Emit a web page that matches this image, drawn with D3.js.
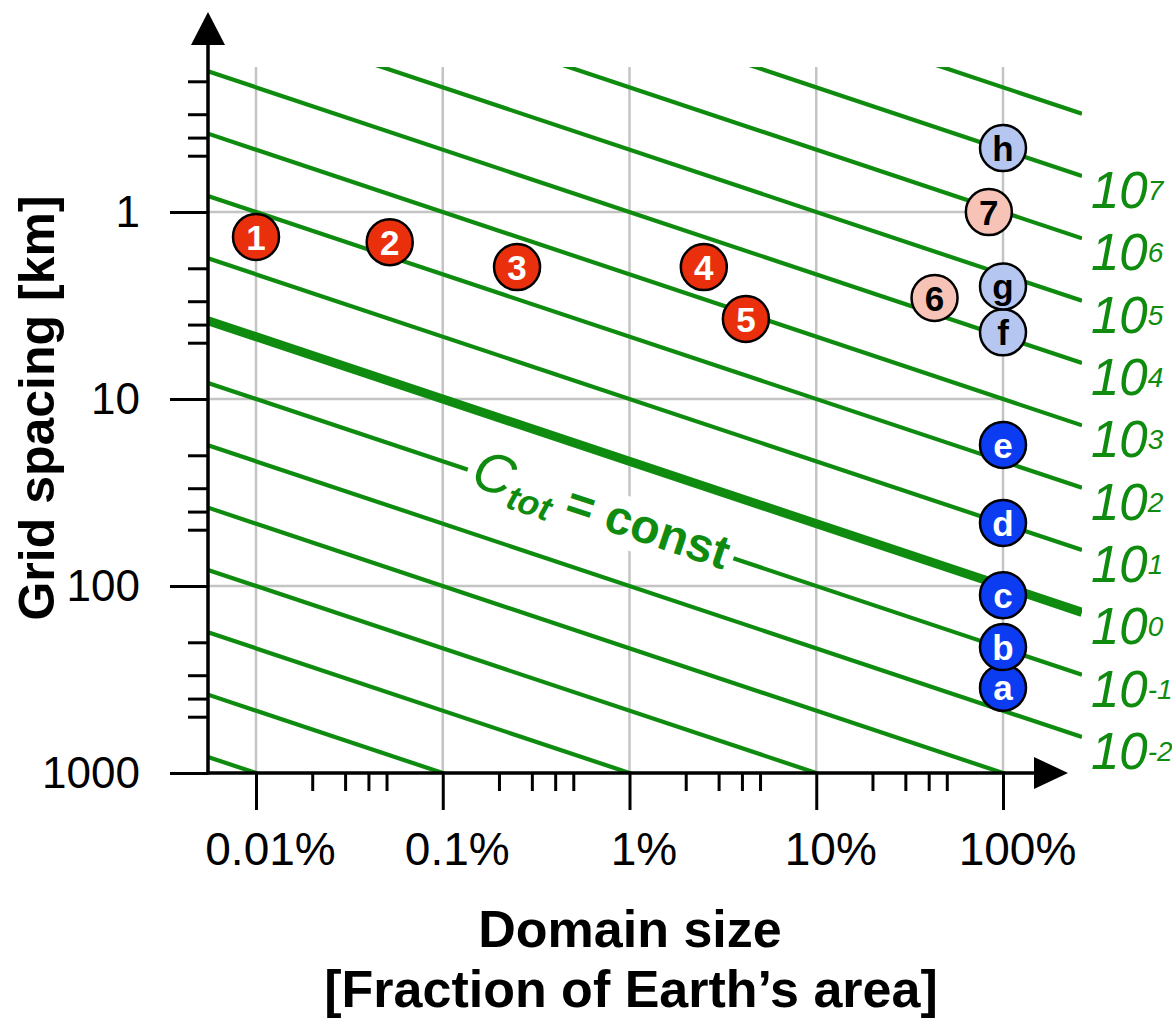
<!DOCTYPE html>
<html>
<head>
<meta charset="utf-8">
<script src="https://cdn.jsdelivr.net/npm/d3@7"></script>
<style>
body { margin: 0; background: #ffffff; }
text { font-family: "Liberation Sans", Arial, Helvetica, sans-serif; }
</style>
</head>
<body>
<div id="canvas"></div>
<script>
// ---- data ----
const domainTicks = [0.0001, 0.001, 0.01, 0.1, 1];              // fraction of Earth's area
const domainTickLabels = ["0.01%", "0.1%", "1%", "10%", "100%"];
const domainMinor = [0.0002, 0.0003, 0.0004, 0.0005,
                     0.002, 0.003, 0.004, 0.005,
                     0.02, 0.03, 0.04, 0.05,
                     0.2, 0.3, 0.4, 0.5];
const spacingTicks = [1, 10, 100, 1000];                           // km
const spacingTickLabels = ["1", "10", "100", "1000"];
const spacingMinor = [0.2, 0.3, 0.4, 0.5,
                      2, 3, 4, 5,
                      20, 30, 40, 50,
                      200, 300, 400, 500];
const costExponents = [-7, -6, -5, -4, -3, -2, -1, 0, 1, 2, 3, 4, 5, 6, 7, 8]; // C_tot = 10^k
const labelledExponents = [-2, -1, 0, 1, 2, 3, 4, 5, 6, 7];
const boldExponent = 0;
const constLabelExponent = -1;
const constLabelDomain = 0.007;                                    // where "C_tot = const" sits

const runLabels  = ["1", "2", "3", "4", "5", "6", "7", "a", "b", "c", "d", "e", "f", "g", "h"];
const runDomain  = [0.0001, 0.00052, 0.0025, 0.025, 0.042, 0.43, 0.84, 1, 1, 1, 1, 1, 1, 1, 1];
const runSpacing = [1.36, 1.45, 1.97, 1.97, 3.73, 2.88, 1.0, 350, 212, 112, 46, 17.6, 4.4, 2.5, 0.455];
const runKind    = ["red", "red", "red", "red", "red", "pink", "pink",
                    "blue", "blue", "blue", "blue", "blue", "lightblue", "lightblue", "lightblue"];

// ---- styles ----
const width = 1172;
const height = 1019;
const green = "#0f8c0f";
const fills = { red: "#ea2f0d", pink: "#f7c3b6", lightblue: "#b5c7f1", blue: "#0c3cf2" };
const textFill = { red: "#ffffff", pink: "#000000", lightblue: "#000000", blue: "#ffffff" };

const plotLeft = 208, plotRight = 1082, plotTop = 67, plotBottom = 773;

const svg = d3.select("#canvas")
    .append("svg")
    .attr("width", width)
    .attr("height", height);

const x = d3.scaleLog().domain([0.0001, 1]).range([256, 1003]);
const y = d3.scaleLog().domain([1, 1000]).range([212, 773]);

// grid
svg.append("g")
    .selectAll("line")
    .data(domainTicks)
    .join("line")
    .attr("x1", d => x(d)).attr("x2", d => x(d))
    .attr("y1", plotTop).attr("y2", plotBottom)
    .attr("stroke", "#c4c4c4").attr("stroke-width", 2.5);
svg.append("g")
    .selectAll("line")
    .data(spacingTicks.slice(0, 3))
    .join("line")
    .attr("x1", plotLeft).attr("x2", x(1))
    .attr("y1", d => y(d)).attr("y2", d => y(d))
    .attr("stroke", "#c4c4c4").attr("stroke-width", 2.5);

// lines of constant total cost: C = A * (100 km / dx)^3
svg.append("clipPath").attr("id", "plotclip")
    .append("rect")
    .attr("x", plotLeft).attr("y", plotTop)
    .attr("width", plotRight - plotLeft).attr("height", plotBottom - plotTop);

function costLine(k) {
    const a0 = x.invert(plotLeft), a1 = x.invert(plotRight);
    return [[a0, 100 * Math.cbrt(a0 / Math.pow(10, k))],
            [a1, 100 * Math.cbrt(a1 / Math.pow(10, k))]];
}
const line = d3.line().x(d => x(d[0])).y(d => y(d[1]));

svg.append("g")
    .attr("clip-path", "url(#plotclip)")
    .selectAll("path")
    .data(costExponents)
    .join("path")
    .attr("d", k => line(costLine(k)))
    .attr("fill", "none")
    .attr("stroke", green)
    .attr("stroke-width", k => k === boldExponent ? 9 : 4.2);

// "C_tot = const" label along one of the lines
const cl = costLine(constLabelExponent);
const angle = Math.atan2(y(cl[1][1]) - y(cl[0][1]), x(cl[1][0]) - x(cl[0][0])) * 180 / Math.PI;
const lx = x(constLabelDomain);
const ly = y(100 * Math.cbrt(constLabelDomain / Math.pow(10, constLabelExponent)));
const lab = svg.append("g").attr("transform", `translate(${lx},${ly}) rotate(${angle})`);
lab.append("rect")
    .attr("x", -140).attr("y", -26)
    .attr("width", 280).attr("height", 52)
    .attr("fill", "#ffffff");
const lt = lab.append("text")
    .attr("text-anchor", "middle")
    .attr("y", 14)
    .attr("fill", green);
lt.append("tspan").attr("font-style", "italic").attr("font-size", 56).text("C");
lt.append("tspan").attr("font-style", "italic").attr("font-weight", "bold").attr("font-size", 35).attr("dy", 10).text("tot");
lt.append("tspan").attr("font-weight", "bold").attr("font-size", 48).attr("dy", -10).text(" = const");

// cost labels at the right end of the lines
const costLabels = svg.append("g").attr("fill", green);
labelledExponents.forEach(function(k) {
    const end = costLine(k)[1];
    const t = costLabels.append("text")
        .attr("x", x(end[0]) + 9)
        .attr("y", y(end[1]) + 32)
        .attr("font-style", "italic");
    t.append("tspan").attr("font-size", 51).text("10");
    t.append("tspan").attr("font-size", 28).attr("dy", -8).text(k);
});

// axes
const yMinor = svg.append("g")
    .attr("transform", `translate(${plotLeft},0)`)
    .call(d3.axisLeft(y).tickValues(spacingMinor).tickSize(20).tickFormat(""));
const yMajor = svg.append("g")
    .attr("transform", `translate(${plotLeft},0)`)
    .call(d3.axisLeft(y).tickValues(spacingTicks).tickSize(38).tickPadding(30)
        .tickFormat((d, i) => spacingTickLabels[i]));
const xMinor = svg.append("g")
    .attr("transform", `translate(0,${plotBottom})`)
    .call(d3.axisBottom(x).tickValues(domainMinor).tickSize(18).tickFormat(""));
const xMajor = svg.append("g")
    .attr("transform", `translate(0,${plotBottom})`)
    .call(d3.axisBottom(x).tickValues(domainTicks).tickSize(37).tickPadding(22)
        .tickFormat((d, i) => domainTickLabels[i]));

[yMinor, yMajor, xMinor, xMajor].forEach(function(g) {
    g.select(".domain").remove();
    g.selectAll(".tick line").attr("stroke", "#000").attr("stroke-width", 3);
    g.selectAll(".tick text").attr("fill", "#000").attr("font-family", null);
});
yMajor.selectAll(".tick text").attr("font-size", 44);
xMajor.selectAll(".tick text").attr("font-size", 46).attr("dx", 14);

svg.append("line")
    .attr("x1", plotLeft).attr("x2", plotLeft)
    .attr("y1", plotBottom + 1.5).attr("y2", 42)
    .attr("stroke", "#000").attr("stroke-width", 3.5);
svg.append("path")
    .attr("d", `M${plotLeft - 17},45 L${plotLeft},12 L${plotLeft + 17},45 Z`)
    .attr("fill", "#000");
svg.append("line")
    .attr("x1", plotLeft - 1.5).attr("x2", 1036)
    .attr("y1", plotBottom).attr("y2", plotBottom)
    .attr("stroke", "#000").attr("stroke-width", 3.5);
svg.append("path")
    .attr("d", `M1034,${plotBottom - 16} L1068,${plotBottom} L1034,${plotBottom + 16} Z`)
    .attr("fill", "#000");

// axis titles
svg.append("text")
    .attr("transform", "translate(54,408) rotate(-90)")
    .attr("text-anchor", "middle")
    .attr("font-weight", "bold")
    .attr("font-size", 50)
    .text("Grid spacing [km]");
svg.append("text")
    .attr("x", 630).attr("y", 947)
    .attr("text-anchor", "middle")
    .attr("font-weight", "bold")
    .attr("font-size", 52)
    .text("Domain size");
svg.append("text")
    .attr("x", 631).attr("y", 1007)
    .attr("text-anchor", "middle")
    .attr("font-weight", "bold")
    .attr("font-size", 52)
    .text("[Fraction of Earth\u2019s area]");

// simulations
const runs = svg.append("g")
    .selectAll("g")
    .data(runLabels.map((l, i) => ({ label: l, a: runDomain[i], dx: runSpacing[i], kind: runKind[i] })))
    .join("g")
    .attr("transform", d => `translate(${x(d.a)},${y(d.dx)})`);
runs.append("circle")
    .attr("r", 23)
    .attr("fill", d => fills[d.kind])
    .attr("stroke", "#000")
    .attr("stroke-width", 2.5);
runs.append("text")
    .attr("text-anchor", "middle")
    .attr("dy", "0.36em")
    .attr("font-weight", "bold")
    .attr("font-size", 35)
    .attr("fill", d => textFill[d.kind])
    .text(d => d.label);
</script>
</body>
</html>
